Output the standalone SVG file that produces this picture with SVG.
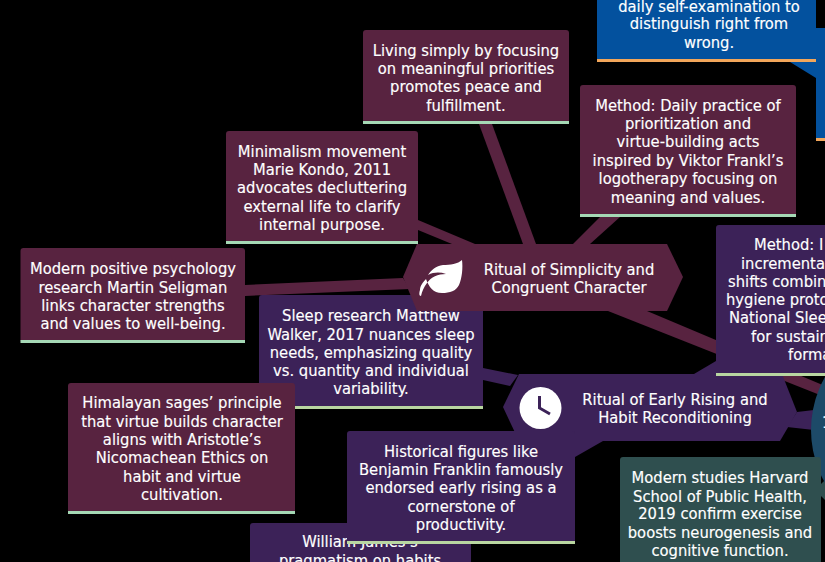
<svg xmlns="http://www.w3.org/2000/svg" width="825" height="562" viewBox="0 0 825 562">
<defs><style>
text{font-family:"DejaVu Sans",sans-serif;font-stretch:condensed;font-size:16.400px;fill:#fff;text-anchor:middle;stroke:#fff;stroke-width:.15px}
text.s{text-anchor:start}
.w{fill:#582340}
.p{fill:#3c2258}
.g{fill:#2f4f4f}
.b{fill:#03519e}
.t{fill:#1d4a68}
.lm{fill:#a5d8b5}
.lp{fill:#b9d6a1}
.lo{fill:#f2a65a}
</style></defs>
<rect width="825" height="562" fill="#000"/>
<g id="connectors">
<polygon class="w" points="479,124 492,124 536,244 523,244"/>
<polygon class="w" points="418,220 475,244 452,244 418,230"/>
<polygon class="w" points="245,285 403,278 410,289 245,296"/>
<polygon class="w" points="600,217 620,217 590,244 573,244"/>
<polygon class="w" points="608,311 647,311 825,386 825,397"/>
<polygon class="p" points="483,368 518,375 510,386 483,380"/>
<polygon class="p" points="560,441 603,441 575,457"/>
<polygon class="p" points="694,374 716,361 716,376"/>
<polygon class="p" points="797,412 814,410 814,430 787,427"/>
<polygon class="b" points="790,62 816,62 816,78"/>
<polygon class="g" points="815,490 825,480 825,500"/>
</g>
<g id="sleep"><rect class="p" x="259" y="295" width="224" height="114" rx="3"/><rect class="lp" x="259" y="406" width="224" height="3"/><text x="371" y="321">Sleep research Matthew</text><text x="371" y="340">Walker, 2017 nuances sleep</text><text x="371" y="358">needs, emphasizing quality</text><text x="371" y="376">vs. quantity and individual</text><text x="371" y="394">variability.</text></g>
<g id="simplicity"><path class="w" d="M417,244H667L683,277L667,311H417L403,277Z"/><text x="569" y="275">Ritual of Simplicity and</text><text x="569" y="293">Congruent Character</text>
<path fill="#fff" d="M462,260C458,264 450,265 443,265C436,266 431,270 428,275C434,272 440,272 446,274C438,274 431,277 427,283C424,287 422,291 421,296C419,296 419,293 420,290C420,286 423,282 426,279C429,287 433,293 442,293C450,293 456,291 459,285C462,278 463,268 462,260Z"/>
</g>
<g id="early"><path class="p" d="M519,374H782L797,412L780,441H519L503,407Z"/><text x="675" y="405">Ritual of Early Rising and</text><text x="675" y="423">Habit Reconditioning</text>
<circle cx="540.500" cy="408" r="21" fill="#fff"/><path d="M539.500,396V408L550,414" fill="none" stroke="#3c2258" stroke-width="3"/></g>
<g id="william"><rect class="p" x="250" y="523" width="221" height="50" rx="3"/><text x="360" y="547">William James’s</text><text x="360" y="566">pragmatism on habits</text></g>
<g id="historical"><rect class="p" x="347" y="431" width="228" height="113" rx="3"/><rect class="lp" x="347" y="541" width="228" height="3"/><text x="461" y="457">Historical figures like</text><text x="461" y="475">Benjamin Franklin famously</text><text x="461" y="493">endorsed early rising as a</text><text x="461" y="512">cornerstone of</text><text x="461" y="530">productivity.</text></g>
<g id="himalayan"><rect class="w" x="68" y="383" width="227" height="131" rx="3"/><rect class="lm" x="68" y="511" width="227" height="3"/><text x="182" y="408">Himalayan sages’ principle</text><text x="182" y="427">that virtue builds character</text><text x="182" y="445">aligns with Aristotle’s</text><text x="182" y="463">Nicomachean Ethics on</text><text x="182" y="482">habit and virtue</text><text x="182" y="500">cultivation.</text></g>
<g id="modern"><rect class="w" x="20.500" y="248" width="224.500" height="95" rx="3"/><rect class="lm" x="20.500" y="340" width="224.500" height="3"/><text x="133" y="274">Modern positive psychology</text><text x="133" y="293">research Martin Seligman</text><text x="133" y="311">links character strengths</text><text x="133" y="329">and values to well-being.</text></g>
<g id="marie"><rect class="w" x="226" y="131" width="192" height="113" rx="3"/><rect class="lm" x="226" y="241" width="192" height="3"/><text x="322" y="157">Minimalism movement</text><text x="322" y="175">Marie Kondo, 2011</text><text x="322" y="193">advocates decluttering</text><text x="322" y="212">external life to clarify</text><text x="322" y="230">internal purpose.</text></g>
<g id="living"><rect class="w" x="363" y="30" width="206" height="94" rx="3"/><rect class="lm" x="363" y="121" width="206" height="3"/><text x="466" y="56">Living simply by focusing</text><text x="466" y="74">on meaningful priorities</text><text x="466" y="92">promotes peace and</text><text x="466" y="111">fulfillment.</text></g>
<g id="daily"><rect class="w" x="580" y="85" width="216" height="132" rx="3"/><rect class="lm" x="580" y="214" width="216" height="3"/><text x="688" y="110.500">Method: Daily practice of</text><text x="688" y="129">prioritization and</text><text x="688" y="147">virtue-building acts</text><text x="688" y="166">inspired by Viktor Frankl’s</text><text x="688" y="184">logotherapy focusing on</text><text x="688" y="203">meaning and values.</text></g>
<g id="blue-small"><rect class="b" x="816" y="28" width="12" height="113"/><rect class="lo" x="816" y="138" width="12" height="3"/></g>
<g id="blue"><rect class="b" x="597" y="-40" width="219" height="102"/><rect class="lo" x="597" y="59" width="219" height="3"/><text x="709" y="12">daily self-examination to</text><text x="709" y="29">distinguish right from</text><text x="709" y="48">wrong.</text></g>
<g id="method"><rect class="p" x="716" y="225" width="130" height="151" rx="3"/><rect class="lp" x="716" y="373" width="130" height="3"/><text class="s" x="754" y="250">Method: I</text><text class="s" x="741" y="269">incremental</text><text class="s" x="728" y="287">shifts combin</text><text class="s" x="726" y="305">hygiene proto</text><text class="s" x="729" y="323">National Slee</text><text class="s" x="751" y="342">for sustain</text><text class="s" x="788" y="360">forma</text></g>
<g id="circle"><circle class="t" cx="918" cy="430" r="107"/><text class="s" x="822" y="428">1</text></g>
<g id="green"><rect class="g" x="620" y="457" width="201" height="115" rx="3"/><text x="720" y="483">Modern studies Harvard</text><text x="720" y="502">School of Public Health,</text><text x="720" y="519">2019 confirm exercise</text><text x="720" y="538">boosts neurogenesis and</text><text x="720" y="556">cognitive function.</text></g>
</svg>
